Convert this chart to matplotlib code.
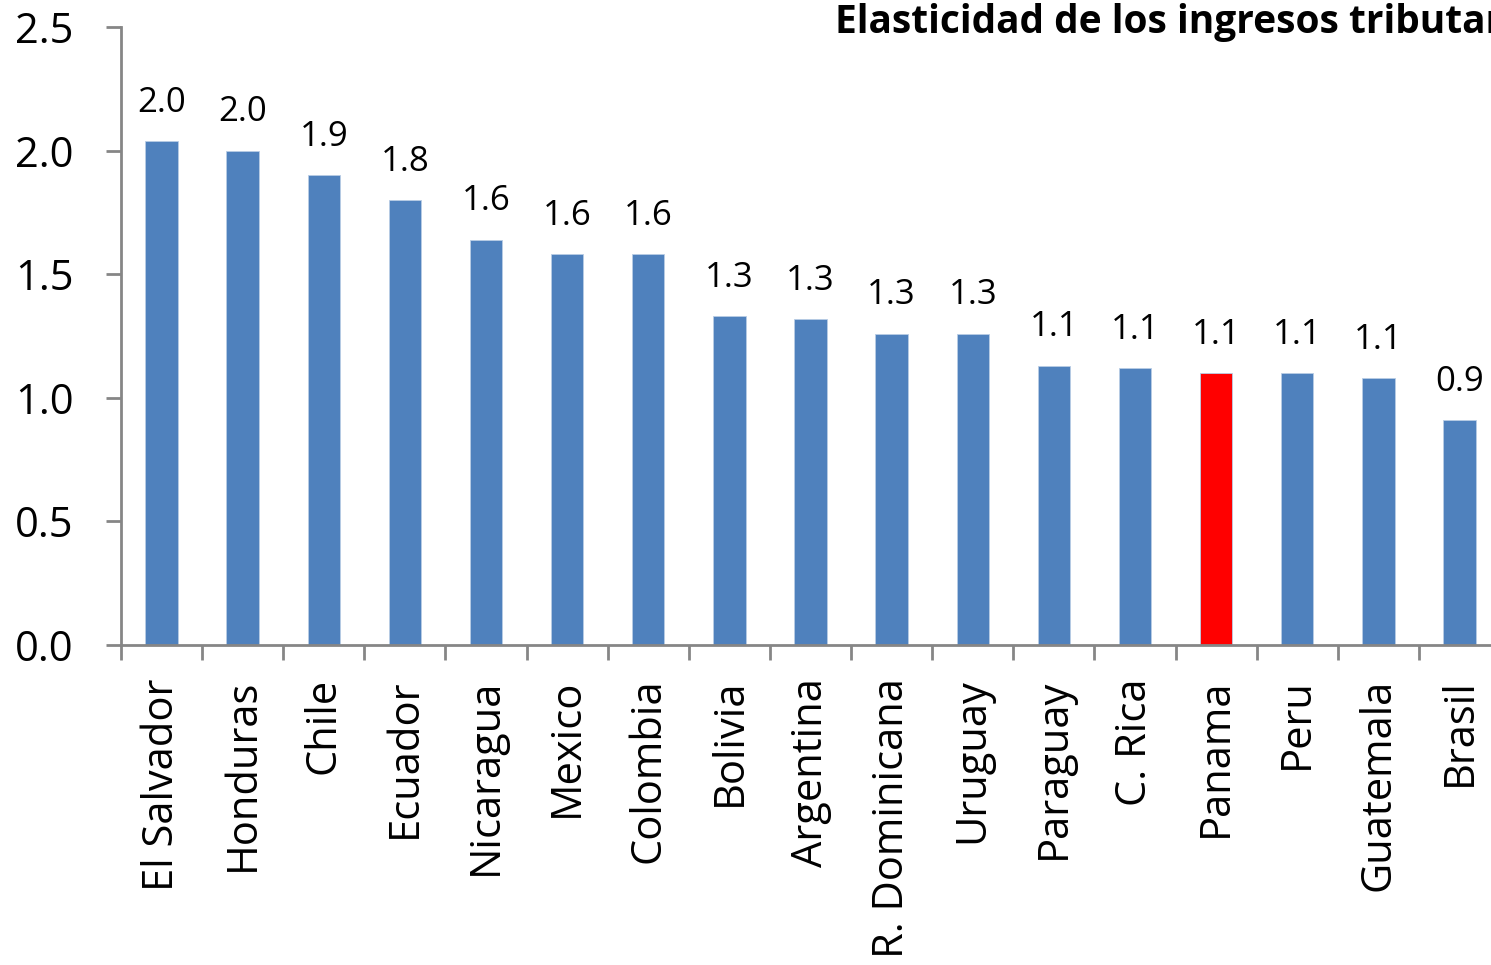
import numpy as np
import matplotlib.pyplot as plt

# Data
countries = ["El Salvador", "Honduras", "Chile", "Ecuador", "Nicaragua", "Mexico",
             "Colombia", "Bolivia", "Argentina", "R. Dominicana", "Uruguay",
             "Paraguay", "C. Rica", "Panama", "Peru", "Guatemala", "Brasil"]
elasticity = [2.04, 2.00, 1.90, 1.80, 1.64, 1.58, 1.58, 1.33, 1.32, 1.26, 1.26,
              1.13, 1.12, 1.10, 1.10, 1.08, 0.91]
highlight = "Panama"
yticks = [0.0, 0.5, 1.0, 1.5, 2.0, 2.5]

plt.rcParams['font.family'] = ['Open Sans', 'DejaVu Sans']
grey = "#868686"

fig = plt.figure(figsize=(14.91, 9.65), dpi=100)
ax = fig.add_axes([121/1491, 1-645/965, (1500-121)/1491, (645-27)/965])

x = np.arange(len(countries))
colors = ["#FF0000" if c == highlight else "#4F81BD" for c in countries]
ax.bar(x, elasticity, width=0.4, color=colors, edgecolor="#B9CDE5", linewidth=0.6)

for xi, v in zip(x, elasticity):
    ax.annotate(f"{v:.1f}", (xi, v), xytext=(0, 21), textcoords="offset points",
                ha="center", va="baseline", fontsize=25)

ax.set_xlim(-0.5, len(countries) - 0.5)
ax.set_ylim(0, 2.5)
ax.set_yticks(yticks)
ax.set_yticklabels([f"{t:.1f}" for t in yticks], fontsize=30)
ax.set_xticks(x)
ax.set_xticklabels(countries, rotation=90, fontsize=30)
ax.set_xticks(np.arange(-0.5, len(countries)), minor=True)
ax.tick_params(axis="x", which="major", length=0, pad=24)
ax.tick_params(axis="x", which="minor", length=11, width=2, color=grey)
ax.tick_params(axis="y", length=11, width=2, color=grey, pad=23)

for s in ["top", "right"]:
    ax.spines[s].set_visible(False)
for s in ["left", "bottom"]:
    ax.spines[s].set_color(grey)
    ax.spines[s].set_linewidth(2)

# title runs past the right edge, as in the original
fig.text(835/1491, 1-33/965, "Elasticidad de los ingresos tributarios",
         fontsize=28, fontweight="bold", ha="left", va="baseline")

fig.savefig("out.png", dpi=100)
